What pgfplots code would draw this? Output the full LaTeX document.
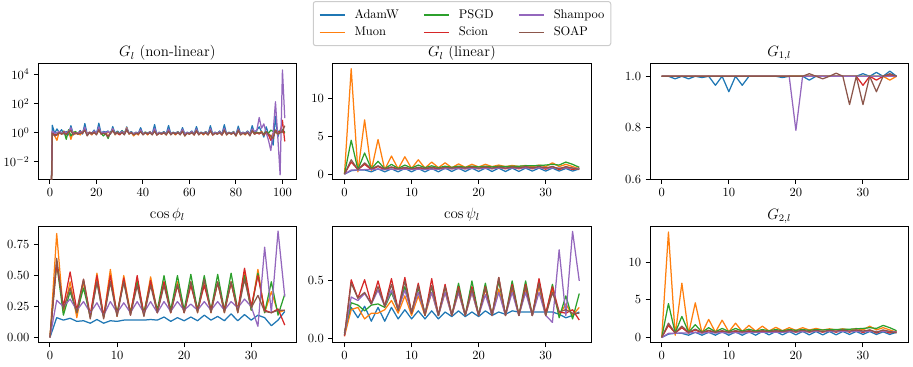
\documentclass[border=0pt]{standalone}
\usepackage{pgfplots}
\pgfplotsset{compat=1.18}
\usepackage{pgfplotstable}
\definecolor{c0}{HTML}{1F77B4}
\definecolor{c1}{HTML}{FF7F0E}
\definecolor{c2}{HTML}{2CA02C}
\definecolor{c3}{HTML}{D62728}
\definecolor{c4}{HTML}{9467BD}
\definecolor{c5}{HTML}{8C564B}
\newcommand{\leg}[1]{\textcolor{#1}{\rule[0.5ex]{20pt}{1.2pt}}\hspace{8pt}}

% G_l non-linear (x = 0..101)
\pgfplotstableread{
x A M P Sc Sh So
0 1e-10 1e-10 1e-10 1e-10 1e-10 1e-10
1 3.2 1.2 1.0 1.1 1.3 0.9
2 0.9 0.6 0.7 0.8 0.9 0.6
3 1.8 0.3 0.8 0.7 1.0 0.7
4 1.0 1.2 1.1 1.0 1.2 1.0
5 1.6 0.8 0.9 0.8 0.9 0.8
6 0.8 1.0 1.3 1.2 1.1 1.0
7 1.2 0.9 0.35 0.9 1.0 0.7
8 0.7 1.3 1.6 1.1 1.2 1.2
9 3.0 0.35 0.6 1.5 2.2 1.4
10 0.8 1.1 1.0 0.9 0.8 0.7
11 1.0 0.8 1.2 1.0 1.0 1.0
12 0.9 1.0 0.8 0.8 0.9 0.8
13 1.4 0.7 1.1 1.2 1.1 0.9
14 0.8 1.2 0.9 0.9 1.0 1.0
15 4.2 1.5 1.8 1.6 2.4 1.5
16 0.8 0.9 0.8 0.7 0.8 0.6
17 1.1 1.0 1.0 1.1 1.0 1.0
18 0.9 0.7 0.9 0.9 0.8 0.8
19 1.5 1.1 1.2 1.0 1.3 1.1
20 0.8 0.8 0.8 0.8 0.9 0.7
21 4.5 1.4 2.0 1.7 2.5 1.6
22 0.9 0.9 0.9 0.8 0.9 0.8
23 1.2 1.0 0.6 1.0 1.1 0.9
24 1.1 0.8 0.9 0.8 1.0 0.8
25 1.3 1.1 0.4 0.6 1.2 0.5
26 0.8 0.9 1.1 0.9 0.9 0.9
27 2.6 1.8 1.5 1.3 1.9 1.4
28 0.9 0.7 0.8 0.9 0.8 0.8
29 1.3 1.1 1.1 0.9 1.0 1.0
30 0.9 0.8 0.8 0.7 0.9 0.8
31 1.4 1.2 1.3 1.1 1.2 1.0
32 0.8 0.8 0.9 0.8 0.8 0.7
33 2.5 2.2 1.8 1.5 2.0 1.7
34 0.9 0.8 0.9 0.9 0.9 0.8
35 1.2 1.0 1.1 1.0 1.1 1.0
36 0.8 0.6 0.8 0.8 0.8 0.7
37 1.1 0.9 1.0 1.0 1.0 0.9
38 0.9 0.7 0.9 0.8 0.9 0.8
39 2.2 1.3 1.4 1.3 1.6 1.2
40 0.8 0.8 0.8 0.8 0.8 0.7
41 1.1 1.0 1.1 1.0 1.0 1.0
42 0.9 0.7 0.9 0.8 0.9 0.8
43 1.2 1.1 1.0 1.0 1.1 1.0
44 0.8 0.8 0.8 0.8 0.8 0.7
45 3.6 1.4 1.6 1.4 2.0 1.3
46 0.7 0.7 0.8 0.7 0.8 0.7
47 1.1 1.0 1.0 1.0 1.0 0.9
48 0.9 0.8 0.9 0.8 0.9 0.8
49 1.2 1.0 1.1 1.0 1.1 1.0
50 0.8 0.7 0.8 0.8 0.8 0.7
51 3.1 1.3 1.5 1.3 1.8 1.3
52 0.8 0.8 0.8 0.8 0.8 0.7
53 1.1 1.0 1.0 1.0 1.0 1.0
54 0.9 0.7 0.9 0.8 0.9 0.8
55 1.2 1.1 1.1 1.0 1.1 1.0
56 0.8 0.8 0.8 0.8 0.8 0.7
57 2.2 1.4 1.5 1.3 1.7 1.3
58 0.8 0.6 0.8 0.7 0.8 0.6
59 1.1 1.0 1.0 1.0 1.0 0.9
60 0.9 0.8 0.9 0.8 0.9 0.8
61 1.3 1.1 1.2 1.1 1.2 1.0
62 0.8 0.7 0.8 0.7 0.8 0.7
63 2.6 1.4 1.6 1.3 1.8 1.4
64 0.8 0.8 0.8 0.8 0.8 0.7
65 1.1 1.0 1.0 1.0 1.0 1.0
66 0.9 0.7 0.9 0.8 0.9 0.8
67 1.2 1.1 1.1 1.0 1.1 1.0
68 0.8 0.7 0.8 0.8 0.8 0.7
69 3.0 1.4 1.6 1.4 1.9 1.4
70 0.8 0.7 0.8 0.7 0.8 0.7
71 1.1 1.0 1.0 1.0 1.0 0.9
72 0.9 0.8 0.9 0.8 0.9 0.8
73 1.3 1.1 1.2 1.1 1.2 1.0
74 0.8 0.7 0.8 0.7 0.8 0.7
75 3.5 1.5 1.7 1.4 2.0 1.5
76 0.8 0.7 0.8 0.8 0.8 0.7
77 1.1 1.0 1.0 1.0 1.0 1.0
78 0.9 0.8 0.9 0.8 0.9 0.8
79 1.2 1.1 1.1 1.0 1.1 1.0
80 0.7 0.6 0.7 0.7 0.7 0.6
81 2.8 1.5 1.6 1.4 1.8 1.5
82 0.8 0.7 0.8 0.8 0.8 0.7
83 1.1 1.0 1.0 1.0 1.0 0.9
84 0.9 0.7 0.9 0.8 0.9 0.8
85 1.3 1.1 1.2 1.1 1.2 1.0
86 0.8 0.7 0.8 0.7 0.8 0.6
87 3.0 1.4 1.6 1.4 1.8 1.4
88 0.9 0.8 0.9 0.8 1.2 0.8
89 1.5 1.0 1.1 1.0 1.5 1.0
90 2.5 0.9 0.9 0.8 11.0 0.9
91 1.2 1.2 1.1 1.1 2.0 1.1
92 0.5 0.7 0.8 0.7 4.0 0.7
93 2.5 1.1 1.2 1.0 1.0 1.2
94 0.8 0.8 0.9 0.7 0.3 0.8
95 0.6 0.5 1.5 0.3 0.06 0.6
96 0.14 0.9 1.2 0.5 1.0 0.4
97 13.0 1.1 1.0 1.5 130 1.5
98 0.5 0.8 1.3 1.2 0.5 0.8
99 1.5 1.0 1.1 1.0 0.0013 1.0
100 1.0 1.2 1.6 7.0 20000 1.2
101 1.2 0.9 1.0 0.25 10.0 3.0
}\tabNL

% G_l linear and G_{2,l}
\pgfplotstableread{
x A M P Sc Sh So
0 0 0 0 0 0 0
1 0.45 14.0 4.5 1.6 0.55 1.9
2 0.55 0.3 0.6 0.6 0.55 0.6
3 0.55 7.2 2.8 1.3 0.6 1.5
4 0.3 0.5 0.7 0.6 0.6 0.7
5 0.7 4.6 1.7 1.0 0.65 1.1
6 0.3 0.6 0.7 0.6 0.6 0.7
7 0.7 2.4 1.3 0.9 0.65 0.95
8 0.3 0.7 0.75 0.65 0.6 0.7
9 0.75 2.3 1.2 0.85 0.65 0.9
10 0.3 0.75 0.8 0.65 0.6 0.7
11 0.75 1.9 1.2 0.85 0.65 0.9
12 0.3 0.8 0.85 0.7 0.6 0.75
13 0.75 1.6 1.1 0.85 0.65 0.9
14 0.3 0.85 0.85 0.7 0.65 0.75
15 0.8 1.5 1.05 0.85 0.7 0.9
16 0.35 0.85 0.9 0.7 0.7 0.8
17 0.8 1.35 1.05 0.9 0.7 0.9
18 0.35 0.9 0.9 0.7 0.7 0.8
19 0.8 1.3 1.05 0.9 0.75 0.95
20 0.35 0.95 0.95 0.7 0.75 0.8
21 0.8 1.3 1.05 0.9 0.75 0.95
22 0.35 1.0 0.95 0.7 0.75 0.8
23 0.8 1.2 1.05 0.9 0.8 0.95
24 0.35 1.0 1.0 0.7 0.8 0.8
25 0.8 1.15 1.05 0.9 0.8 0.95
26 0.35 1.0 1.05 0.7 0.8 0.85
27 0.8 1.15 1.1 0.95 0.8 1.0
28 0.4 1.0 1.1 0.7 0.8 0.85
29 0.8 1.2 1.15 1.0 0.8 1.0
30 0.4 1.0 1.2 0.65 0.8 0.85
31 0.8 1.5 1.3 1.0 0.8 1.0
32 0.4 1.0 1.2 0.6 0.8 0.7
33 0.75 1.3 1.6 0.9 0.8 1.0
34 0.4 1.0 1.3 0.6 0.8 0.8
35 0.7 0.7 0.9 0.8 0.7 0.6
}\tabLin

% G_{1,l}
\pgfplotstableread{
x A M P Sc Sh So
0 1 1 1 1 1 1
1 1 1 1 1 1 1
2 0.99 1 1 1 1 1
3 1 1 1 1 1 1
4 0.99 1 1 1 1 1
5 1 1 1 1 1 1
6 0.995 1 1 1 1 1
7 1 1 1 1 1 1
8 0.965 1 1 1 1 1
9 1 1 1 1 1 1
10 0.94 1 1 1 1 1
11 1 1 1 1 1 1
12 0.965 1 1 1 1 1
13 1 1 1 1 1 1
14 1 1 1 1 1 1
15 1 1 1 1 1 1
16 1 1 1 1 1 1
17 1 1 1 1 1 1
18 0.995 1 1 1 1 1
19 1 1 1 1 1 1
20 1 1 1 1 0.79 1
21 1 1 1 1 1 1
22 0.985 1 1 1 1 1.01
23 1 1 1 1 1 1
24 1 1 1 1 1 0.99
25 1 1 1 1 1 1
26 1 1 1 1 1 1.012
27 1 1 1 1 1 1
28 1 1 1 1 1 0.89
29 1 1 1 1 1 1
30 1.01 1 1 0.965 1 0.89
31 1 1 1 1 1 1
32 1.015 1 1 0.985 1 0.94
33 1 1 1 1 1 1
34 1.02 0.985 1.005 1.005 1 1.01
35 1 1 1 1 1 1
}\tabGa

% cos phi
\pgfplotstableread{
x A M P Sc Sh So
0 0 0 0 0 0 0
1 0.16 0.84 0.60 0.60 0.30 0.64
2 0.14 0.20 0.18 0.25 0.25 0.23
3 0.155 0.45 0.37 0.53 0.31 0.40
4 0.13 0.16 0.20 0.22 0.22 0.20
5 0.135 0.45 0.40 0.47 0.29 0.47
6 0.115 0.16 0.17 0.18 0.20 0.15
7 0.145 0.52 0.45 0.50 0.28 0.45
8 0.115 0.16 0.17 0.17 0.18 0.15
9 0.135 0.55 0.45 0.50 0.29 0.45
10 0.13 0.17 0.20 0.18 0.20 0.17
11 0.14 0.50 0.45 0.48 0.28 0.45
12 0.14 0.20 0.20 0.18 0.20 0.18
13 0.14 0.47 0.45 0.50 0.29 0.42
14 0.14 0.18 0.20 0.18 0.20 0.17
15 0.145 0.49 0.45 0.46 0.29 0.42
16 0.14 0.20 0.22 0.20 0.20 0.20
17 0.165 0.45 0.50 0.45 0.29 0.42
18 0.13 0.20 0.22 0.20 0.21 0.20
19 0.16 0.45 0.50 0.42 0.29 0.43
20 0.135 0.20 0.22 0.20 0.22 0.20
21 0.165 0.45 0.51 0.42 0.27 0.45
22 0.135 0.20 0.22 0.22 0.22 0.20
23 0.18 0.45 0.50 0.42 0.29 0.47
24 0.14 0.20 0.22 0.22 0.22 0.20
25 0.17 0.45 0.51 0.44 0.29 0.45
26 0.135 0.20 0.22 0.22 0.22 0.20
27 0.19 0.45 0.52 0.44 0.29 0.45
28 0.135 0.20 0.22 0.22 0.24 0.20
29 0.185 0.52 0.50 0.56 0.31 0.47
30 0.14 0.22 0.22 0.25 0.25 0.24
31 0.18 0.55 0.52 0.50 0.09 0.34
32 0.16 0.20 0.20 0.22 0.73 0.21
33 0.095 0.37 0.45 0.20 0.20 0.20
34 0.14 0.20 0.18 0.23 0.86 0.22
35 0.21 0.22 0.35 0.10 0.33 0.22
}\tabPhi

% cos psi
\pgfplotstableread{
x A M P Sc Sh So
0 0.05 0.02 0.05 0.02 0.03 0.03
1 0.27 0.25 0.31 0.51 0.36 0.48
2 0.18 0.27 0.29 0.35 0.33 0.35
3 0.28 0.17 0.24 0.51 0.39 0.40
4 0.15 0.22 0.29 0.30 0.30 0.30
5 0.27 0.22 0.30 0.50 0.42 0.45
6 0.15 0.25 0.27 0.28 0.28 0.28
7 0.27 0.33 0.40 0.52 0.42 0.47
8 0.17 0.22 0.25 0.25 0.25 0.24
9 0.25 0.37 0.45 0.53 0.42 0.50
10 0.17 0.20 0.23 0.22 0.23 0.22
11 0.24 0.37 0.44 0.48 0.40 0.46
12 0.17 0.20 0.22 0.20 0.22 0.20
13 0.24 0.40 0.45 0.52 0.40 0.46
14 0.17 0.20 0.20 0.20 0.20 0.20
15 0.23 0.40 0.45 0.47 0.40 0.45
16 0.19 0.20 0.20 0.20 0.20 0.20
17 0.24 0.40 0.48 0.45 0.40 0.43
18 0.19 0.20 0.20 0.20 0.20 0.20
19 0.23 0.40 0.50 0.45 0.40 0.43
20 0.19 0.20 0.20 0.20 0.20 0.20
21 0.24 0.43 0.48 0.45 0.38 0.44
22 0.20 0.20 0.20 0.20 0.20 0.20
23 0.23 0.43 0.50 0.53 0.40 0.53
24 0.21 0.20 0.20 0.20 0.20 0.20
25 0.24 0.43 0.50 0.47 0.40 0.45
26 0.23 0.20 0.20 0.20 0.20 0.20
27 0.23 0.43 0.50 0.47 0.40 0.45
28 0.23 0.20 0.20 0.20 0.20 0.20
29 0.23 0.45 0.50 0.52 0.40 0.48
30 0.23 0.20 0.20 0.22 0.20 0.20
31 0.23 0.43 0.47 0.45 0.14 0.40
32 0.21 0.20 0.18 0.23 0.77 0.23
33 0.18 0.30 0.37 0.22 0.20 0.25
34 0.20 0.20 0.17 0.25 0.93 0.22
35 0.23 0.27 0.39 0.16 0.50 0.22
}\tabPsi

\newcommand{\plotall}[1]{%
  \addplot[c0,forget plot] table[x=x,y=A]{#1};
  \addplot[c1,forget plot] table[x=x,y=M]{#1};
  \addplot[c2,forget plot] table[x=x,y=P]{#1};
  \addplot[c3,forget plot] table[x=x,y=Sc]{#1};
  \addplot[c4,forget plot] table[x=x,y=Sh]{#1};
  \addplot[c5,forget plot] table[x=x,y=So]{#1};
}

\pgfplotsset{
  myax/.style={
    scale only axis, width=206.6pt, height=92.8pt, anchor=south west,
    axis line style={line width=0.8pt},
    tick align=outside, tick pos=left, major tick length=3.5pt,
    tick style={black, line width=0.8pt},
    every axis plot/.append style={line width=1pt, line join=round},
    xmin=-1.75, xmax=36.75, xtick={0,10,20,30},
    tick label style={font=\normalsize},
  }
}

\begin{document}
\begin{tikzpicture}
\useasboundingbox (0,0) rectangle (730.4pt,292.8pt);

\begin{axis}[myax, name=a1, at={(30.6pt,149.3pt)}, xmin=-5.05, xmax=106.05,
  xtick={0,20,40,60,80,100}, ymode=log, ymin=6.3e-4, ymax=5.6e4,
  ytick={1e-2,1,1e2,1e4}, yminorticks=false]
\plotall{\tabNL}
\end{axis}
\node[anchor=base, font=\large, inner sep=0pt] at ([yshift=5.3pt]a1.north) {$G_l$ (non-linear)};

\begin{axis}[myax, name=a2, at={(266.2pt,149.3pt)}, ymin=-0.7, ymax=14.7, ytick={0,5,10}]
\plotall{\tabLin}
\end{axis}
\node[anchor=base, font=\large, inner sep=0pt] at ([yshift=5.3pt]a2.north) {$G_l$ (linear)};

\node[anchor=north, draw=black!20, line width=0.8pt, rounded corners=2pt, fill=white,
  inner xsep=5pt, inner ysep=3.5pt, font=\normalsize] at ([yshift=-0.8pt]369.6pt,292.8pt) {%
  \renewcommand{\arraystretch}{1.18}%
  \begin{tabular}{@{}l@{\hspace{20pt}}l@{\hspace{20pt}}l@{}}
  \leg{c0}AdamW & \leg{c2}PSGD & \leg{c4}Shampoo\\
  \leg{c1}Muon & \leg{c3}Scion & \leg{c5}SOAP
  \end{tabular}};

\begin{axis}[myax, name=a3, at={(520pt,149.3pt)}, ymin=0.6, ymax=1.05, ytick={0.6,0.8,1.0},
  yticklabel style={/pgf/number format/.cd, fixed, fixed zerofill, precision=1}]
\plotall{\tabGa}
\end{axis}
\node[anchor=base, font=\large, inner sep=0pt] at ([yshift=5.8pt]a3.north) {$G_{1,l}$};

\begin{axis}[myax, name=a4, at={(30.6pt,18.6pt)}, ymin=-0.043, ymax=0.895,
  ytick={0,0.25,0.5,0.75},
  yticklabel style={/pgf/number format/.cd, fixed, fixed zerofill, precision=2}]
\plotall{\tabPhi}
\end{axis}
\node[anchor=base, font=\large, inner sep=0pt] at ([yshift=6.6pt]a4.north) {$\cos\phi_l$};

\begin{axis}[myax, name=a5, at={(266.2pt,18.6pt)}, ymin=-0.037, ymax=0.97,
  ytick={0,0.5},
  yticklabel style={/pgf/number format/.cd, fixed, fixed zerofill, precision=1}]
\plotall{\tabPsi}
\end{axis}
\node[anchor=base, font=\large, inner sep=0pt] at ([yshift=6.6pt]a5.north) {$\cos\psi_l$};

\begin{axis}[myax, name=a6, at={(520pt,18.6pt)}, ymin=-0.7, ymax=14.7, ytick={0,5,10}]
\plotall{\tabLin}
\end{axis}
\node[anchor=base, font=\large, inner sep=0pt] at ([yshift=6.2pt]a6.north) {$G_{2,l}$};
\end{tikzpicture}
\end{document}
